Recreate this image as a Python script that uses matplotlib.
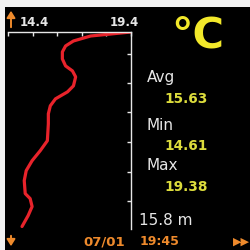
import matplotlib.pyplot as plt
from matplotlib.patches import Rectangle, FancyArrowPatch

# --- data ---
temps = [19.40, 18.58, 17.76, 17.06, 16.74, 16.61, 16.61, 16.74, 17.02, 17.15,
         17.06, 16.82, 16.33, 16.12, 16.04, 16.04, 16.00, 15.71, 15.38, 15.14,
         15.06, 15.10, 15.30, 15.38, 15.22, 14.97]
depths = [0.0, 0.16, 0.32, 0.72, 1.12, 1.6, 2.16, 2.72, 3.12, 3.6,
          4.32, 4.8, 5.36, 5.92, 6.56, 7.36, 8.72, 9.52, 10.32, 11.12,
          11.92, 12.96, 13.36, 14.0, 14.72, 15.6]
temp_ticks = [14.4, 15.4, 16.4, 17.4, 18.4, 19.4]
depth_ticks = [1.76, 4.09, 6.41, 8.82, 11.23, 13.55]
t_min, t_max = 14.4, 19.4
max_depth = 15.8

stats = [("Avg", "15.63"), ("Min", "14.61"), ("Max", "19.38")]
date_str, time_str = "07/01", "19:45"

W, H = 250, 251
RED = "#e8232b"
YELLOW = "#f2e82a"
NUM_YELLOW = "#dcdc3c"
ORANGE = "#ee8a2c"
WHITE = "#e6e6e6"

fig = plt.figure(figsize=(2.5, 2.51), dpi=100)
fig.patch.set_facecolor("#f2f2f2")
# black screen area (photo frame shows on top/left)
fig.patches.append(Rectangle((5 / W, 0), 1, 1 - 8 / H, transform=fig.transFigure,
                             facecolor="black", edgecolor="none", zorder=-5))


def px(x, y):
    return x / W, 1 - y / H


# --- profile axes ---
x0, x1, y0, y1 = 8, 131, 33, 230
ax = fig.add_axes([x0 / W, 1 - y1 / H, (x1 - x0) / W, (y1 - y0) / H])
ax.set_zorder(2)
ax.set_facecolor("black")
ax.plot(temps, depths, color=RED, lw=2.3, solid_capstyle="round", solid_joinstyle="round")
ax.set_xlim(t_min, t_max)
ax.set_ylim(max_depth, 0)

for side in ["left", "bottom"]:
    ax.spines[side].set_visible(False)
for side in ["top", "right"]:
    ax.spines[side].set_color(WHITE)
    ax.spines[side].set_linewidth(1.0)

ax.xaxis.tick_top()
ax.yaxis.tick_right()
ax.set_xticks(temp_ticks)
ax.set_yticks(depth_ticks)
ax.tick_params(axis="both", direction="in", length=3, width=1.0, color=WHITE,
               labeltop=False, labelright=False, labelbottom=False, labelleft=False)

# --- axis end labels ---
fig.text(*px(20, 23), f"{t_min:.1f}", color=WHITE, fontsize=8.5, fontweight="bold",
         ha="left", va="center")
fig.text(*px(139, 23), f"{t_max:.1f}", color=WHITE, fontsize=8.5, fontweight="bold",
         ha="right", va="center")

# orange scroll arrows
for ya, yb in [(31, 9), (234, 250)]:
    fig.patches.append(FancyArrowPatch(
        px(11, ya), px(11, yb), transform=fig.transFigure,
        arrowstyle="-|>,head_width=2.5,head_length=4", color=ORANGE, lw=1.4))

# --- unit ---
fig.text(*px(198, 36), "°C", color=YELLOW, fontsize=31, fontweight="bold",
         ha="center", va="center")

# --- stats ---
label_y = [78, 125, 166]
value_y = [99, 146, 187]
for (name, val), ly, vy in zip(stats, label_y, value_y):
    fig.text(*px(147, ly), name, color=WHITE, fontsize=11, ha="left", va="center")
    fig.text(*px(164, vy), val, color=NUM_YELLOW, fontsize=9.8, fontweight="bold",
             ha="left", va="center")

fig.text(*px(139, 221), f"{max_depth} m", color=WHITE, fontsize=11,
         ha="left", va="center")

# --- footer ---
fig.text(*px(125, 242), date_str, color=ORANGE, fontsize=9.5, fontweight="bold",
         ha="right", va="center")
fig.text(*px(140, 242), time_str, color=ORANGE, fontsize=9, fontweight="bold",
         ha="left", va="center")
fig.text(*px(250, 242), "▶▶", color=ORANGE, fontsize=8, ha="right", va="center")

fig.savefig("out.png", dpi=100, facecolor=fig.get_facecolor())
